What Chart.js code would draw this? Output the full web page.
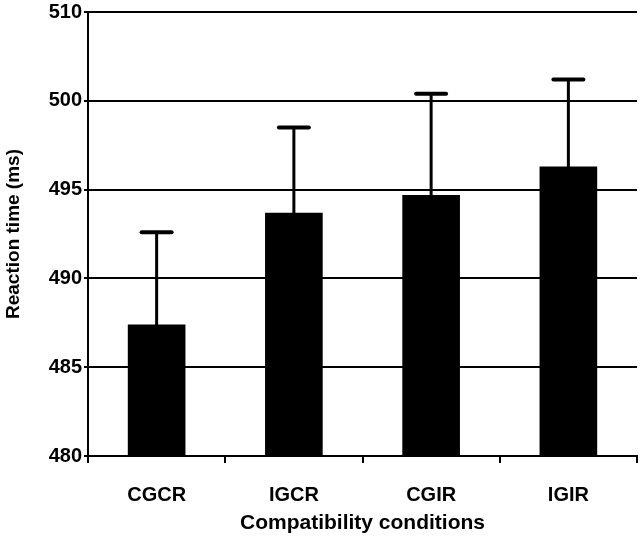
<!DOCTYPE html>
<html>
<head>
<meta charset="utf-8">
<script src="https://cdn.jsdelivr.net/npm/chart.js@4"></script>
<style>
  html, body { margin: 0; padding: 0; background: #fff; }
  #wrap { width: 640px; height: 541px; }
</style>
</head>
<body>
<div id="wrap"><canvas id="rtChart"></canvas></div>
<script>
const conditions = ['CGCR', 'IGCR', 'CGIR', 'IGIR'];
const meanRT = [487.4, 493.7, 494.7, 496.3];
const errorRT = [5.2, 4.8, 5.7, 4.9];
// the top gridline of the original is labelled 510 although it sits one step above 500
const yTickValues = [480, 485, 490, 495, 500, 505];
const yTickLabels = ['480', '485', '490', '495', '500', '510'];

const fontFamily = '"Liberation Sans", Arial, sans-serif';

// upper-only error bars, drawn from the scales
const errorBars = {
    id: 'errorBars',
    afterDatasetsDraw(chart) {
        const ctx = chart.ctx;
        const x = chart.scales.x;
        const y = chart.scales.y;
        ctx.save();
        ctx.strokeStyle = '#000';
        ctx.lineCap = 'round';
        meanRT.forEach((m, i) => {
            const cx = x.getPixelForValue(i);
            const y0 = y.getPixelForValue(m);
            const y1 = y.getPixelForValue(m + errorRT[i]);
            ctx.lineWidth = 3;
            ctx.beginPath();
            ctx.moveTo(cx, y0);
            ctx.lineTo(cx, y1);
            ctx.stroke();
            ctx.lineWidth = 4;
            ctx.beginPath();
            ctx.moveTo(cx - 15, y1);
            ctx.lineTo(cx + 15, y1);
            ctx.stroke();
        });
        ctx.restore();
    }
};

new Chart(document.getElementById('rtChart'), {
    type: 'bar',
    data: {
        labels: conditions,
        datasets: [{
            data: meanRT,
            backgroundColor: '#000',
            borderWidth: 0,
            barPercentage: 0.42,
            categoryPercentage: 1
        }]
    },
    options: {
        responsive: true,
        maintainAspectRatio: false,
        animation: false,
        layout: { padding: { top: 0, right: 3, left: 0, bottom: 0 } },
        plugins: {
            legend: { display: false },
            tooltip: { enabled: false }
        },
        scales: {
            x: {
                afterFit: s => { s.height = 85; },
                grid: { drawOnChartArea: false, color: '#000', lineWidth: 2, tickLength: 7, offset: true },
                border: { color: '#000', width: 2 },
                ticks: {
                    color: '#000',
                    padding: 20,
                    font: { family: fontFamily, size: 20, weight: 'bold' }
                },
                title: {
                    display: true,
                    text: 'Compatibility conditions',
                    color: '#000',
                    padding: { top: 4, bottom: 5 },
                    font: { family: fontFamily, size: 21, weight: 'bold' }
                }
            },
            y: {
                min: 480,
                max: 505,
                afterFit: s => { s.width = 88; },
                afterBuildTicks: s => { s.ticks = yTickValues.map(v => ({ value: v })); },
                grid: { color: '#000', lineWidth: 2, drawTicks: true, tickLength: 4 },
                border: { color: '#000', width: 2 },
                ticks: {
                    color: '#000',
                    padding: 2,
                    callback: (v, i) => yTickLabels[i],
                    font: { family: fontFamily, size: 20, weight: 'bold', lineHeight: 1.0 }
                },
                title: {
                    display: true,
                    text: 'Reaction time (ms)',
                    color: '#000',
                    padding: { top: 2, bottom: 0 },
                    font: { family: fontFamily, size: 19, weight: 'bold' }
                }
            }
        }
    },
    plugins: [errorBars]
});
</script>
</body>
</html>
